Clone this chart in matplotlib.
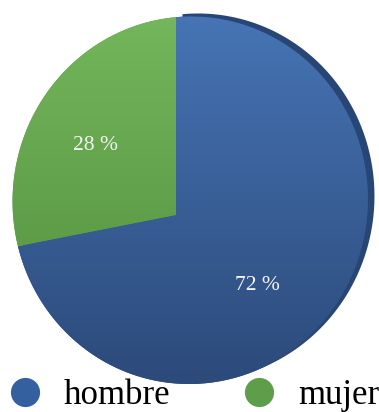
import numpy as np
import matplotlib
matplotlib.use("Agg")
import matplotlib.pyplot as plt
from matplotlib.patches import PathPatch
from matplotlib.path import Path
from matplotlib.lines import Line2D
from matplotlib.colors import to_rgb

# ---- data ----
categories = ["hombre", "mujer"]
values = [72, 28]

# ---- style ----
top_colors = ["#4674B4", "#73B65B"]
bottom_colors = ["#2C4A7A", "#5E9C48"]
legend_colors = ["#35609F", "#5E9E4A"]
rim_color = "#284675"
W, Hh = 379, 412

fig = plt.figure(figsize=(W / 100, Hh / 100), dpi=100)
ax = fig.add_axes([0, 0, 1, 1])

wedges, texts, autotexts = ax.pie(
    values, startangle=90, counterclock=False, radius=1.0, center=(0, 0),
    autopct=lambda p: f"{p:.0f} %", pctdistance=0.6,
    wedgeprops=dict(linewidth=0),
    textprops=dict(color="#F4F6F2", family="Liberation Serif", fontsize=15.5),
)

ax.set_xlim(0, W)
ax.set_ylim(0, Hh)
ax.set_aspect("auto")
ax.axis("off")

# perspective (tilted disc) mapping from the unit pie into pixel space
cx, cy, sx, sy, k = 176.0, 197.0, 176.0, 182.0, 0.08


def persp(pts):
    pts = np.asarray(pts, dtype=float)
    u, v = pts[..., 0], pts[..., 1]
    w = 1 - k * (u + v)
    return np.stack([cx + sx * u / w, cy + sy * v / w], axis=-1)


def flatten(path, n=40):
    pts = []
    for seg, code in path.iter_bezier():
        tt = np.linspace(0, 1, n)
        pts.append(np.atleast_2d(seg(tt)))
    return np.concatenate(pts)


polys = []
for wdg in wedges:
    poly = flatten(wdg.get_path())
    polys.append(persp(poly))
    wdg.set_visible(False)

# dark rim (3D edge) behind the big slice
rim = PathPatch(Path(polys[0] + np.array([6.5, 3.0])),
                facecolor=rim_color, edgecolor="none", zorder=1)
ax.add_patch(rim)

for i, poly in enumerate(polys):
    patch = PathPatch(Path(poly), facecolor=bottom_colors[i], edgecolor="none",
                      zorder=2)
    ax.add_patch(patch)
    ymin, ymax = poly[:, 1].min(), poly[:, 1].max()
    yy = np.arange(Hh)[::-1] + 0.5
    t = np.clip((ymax - yy) / (ymax - ymin), 0, 1)[:, None]
    c0 = np.array(to_rgb(top_colors[i]))
    c1 = np.array(to_rgb(bottom_colors[i]))
    grad = (c0 * (1 - t) + c1 * t)[:, None, :]
    grad = np.repeat(grad, 2, axis=1)
    im = ax.imshow(grad, extent=[0, W, 0, Hh], origin="upper", aspect="auto",
                   interpolation="bilinear", zorder=3)
    im.set_clip_path(patch)

for t_ in autotexts:
    x, y = t_.get_position()
    X, Y = persp([x, y])
    t_.set_position((X, Y))
    t_.set_zorder(5)

handles = [Line2D([], [], marker="o", linestyle="", markersize=21,
                  markerfacecolor=c, markeredgecolor="none") for c in legend_colors]
leg = ax.legend(handles, categories, ncol=2, frameon=False, loc="lower left",
                bbox_to_anchor=(0.02, 0.0), bbox_transform=fig.transFigure,
                borderpad=0, borderaxespad=0, handlelength=1.0,
                handletextpad=0.62, columnspacing=2.05,
                prop=dict(family="Liberation Serif", size=25))

fig.savefig("out.png", dpi=100)
